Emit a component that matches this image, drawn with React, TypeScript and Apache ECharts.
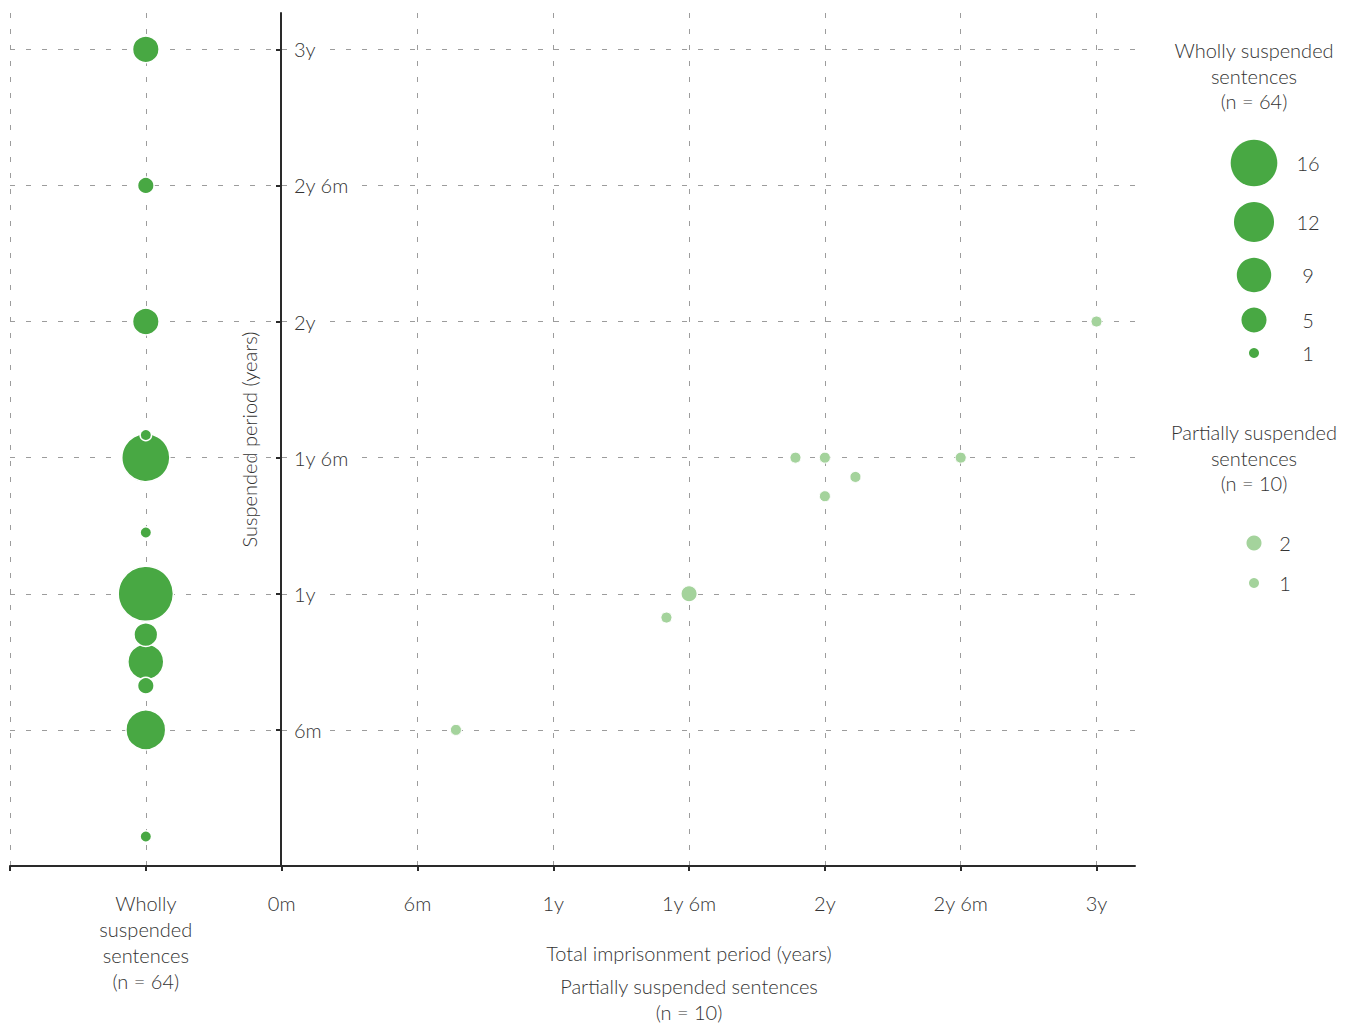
import React, { useEffect, useRef } from "react";
import * as echarts from "echarts";

// ---- Data (months) ----
const xTickMonths = [-12, -6, 0, 6, 12, 18, 24, 30, 36];
const xTickLabels = ["", "Wholly\nsuspended\nsentences\n(n = 64)", "0m", "6m", "1y", "1y 6m", "2y", "2y 6m", "3y"];
const yTickMonths = [6, 12, 18, 24, 30, 36];
const yTickLabels = ["6m", "1y", "1y 6m", "2y", "2y 6m", "3y"];

const whollyColumnX = -6;
const whollySuspendedMonths = [36, 30, 24, 18, 19, 14.7, 12, 10.2, 9, 7.95, 6, 1.3];
const whollyCounts = [5, 2, 5, 16, 1, 1, 21, 4, 9, 2, 11, 1];

const partialTotalMonths = [22.7, 24, 25.35, 24, 30, 36, 18, 17, 7.7];
const partialSuspendedMonths = [18, 18, 17.15, 16.3, 18, 24, 12, 10.95, 6];
const partialCounts = [1, 1, 1, 1, 1, 1, 2, 1, 1];

const whollyLegendValues = [16, 12, 9, 5, 1];
const partialLegendValues = [2, 1];

const whollyTitle = "Wholly suspended\nsentences\n(n = 64)";
const partialTitle = "Partially suspended\nsentences\n(n = 10)";
const xAxisTitle = "Total imprisonment period (years)";
const xAxisSubTitle = "Partially suspended sentences";
const xAxisSubN = "(n = 10)";
const yAxisTitle = "Suspended period (years)";

// ---- Styles ----
const DARK = "#48a843";
const LIGHT = "#a4d39c";
const TEXT = "#333333";
const GRIDC = "#9c9c9c";
const FONT = "Lato, 'Open Sans', sans-serif";
const FW = 300;
const FS = 20;

const radius = (n: number) => 6.1 * Math.sqrt(n) - 1.1;

export default function App() {
  const ref = useRef<HTMLDivElement>(null);
  useEffect(() => {
    if (!ref.current) return;
    const chart = echarts.init(ref.current, undefined, { renderer: "svg" });

    const whollyData = whollySuspendedMonths
      .map((y, i) => ({ value: [whollyColumnX, y, whollyCounts[i]] }))
      .sort((a, b) => b.value[2] - a.value[2]);
    const partialData = partialTotalMonths.map((x, i) => ({
      value: [x, partialSuspendedMonths[i], partialCounts[i]],
    }));

    const wLegendY = [163, 222, 275, 320, 353];
    const pLegendY = [543, 583];
    const graphics: any[] = [];
    const txt = (text: string, x: number, y: number, lh = 25.5) => ({
      type: "text",
      style: {
        text,
        x,
        y,
        align: "center",
        verticalAlign: "middle",
        fill: TEXT,
        fontSize: FS,
        fontWeight: FW,
        fontFamily: FONT,
        lineHeight: lh,
      },
      silent: true,
    });
    graphics.push(txt(whollyTitle, 1254, 75.5));
    graphics.push(txt(partialTitle, 1254, 457.5));
    whollyLegendValues.forEach((v, i) => {
      graphics.push({
        type: "circle",
        shape: { cx: 1254, cy: wLegendY[i], r: radius(v) },
        style: { fill: DARK },
        silent: true,
      });
      graphics.push(txt(String(v), 1308, wLegendY[i]));
    });
    partialLegendValues.forEach((v, i) => {
      graphics.push({
        type: "circle",
        shape: { cx: 1254, cy: pLegendY[i], r: radius(v) },
        style: { fill: LIGHT },
        silent: true,
      });
      graphics.push(txt(String(v), 1285, pLegendY[i]));
    });
    graphics.push(txt(xAxisTitle, 689, 953));
    graphics.push(txt(xAxisSubTitle, 689, 986));
    graphics.push(txt(xAxisSubN, 689, 1012));

    const dashed = { show: true, lineStyle: { color: GRIDC, type: [5, 11] as any, width: 1 } };

    chart.setOption({
      animation: false,
      grid: { left: 10, right: 218, top: 13, bottom: 157, containLabel: false, outerBoundsMode: "none" },
      xAxis: {
        type: "value",
        min: -12,
        max: 37.7,
        interval: 6,
        axisLine: { show: true, onZero: false, lineStyle: { color: "#2a2a2a", width: 2 } },
        axisTick: { show: true, length: 5, customValues: xTickMonths, lineStyle: { color: "#2a2a2a", width: 2 } },
        axisLabel: {
          customValues: xTickMonths,
          margin: 24,
          color: TEXT,
          fontSize: FS,
          fontWeight: FW,
          fontFamily: FONT,
          lineHeight: 26,
          formatter: (v: number) => {
            const i = xTickMonths.indexOf(v);
            return i >= 0 ? xTickLabels[i] : "";
          },
        },
        splitLine: dashed,
      },
      yAxis: {
        type: "value",
        min: 0,
        max: 37.6,
        interval: 6,
        position: "left",
        offset: -271,
        name: yAxisTitle,
        nameLocation: "middle",
        nameGap: 22,
        nameTextStyle: { color: TEXT, fontSize: FS, fontWeight: FW, fontFamily: FONT },
        axisLine: { show: true, onZero: false, lineStyle: { color: "#2a2a2a", width: 2 } },
        axisTick: { show: true, inside: false, length: 5, customValues: yTickMonths, lineStyle: { color: "#2a2a2a", width: 2 } },
        axisLabel: {
          customValues: yTickMonths,
          inside: true,
          margin: 8,
          color: TEXT,
          fontSize: FS,
          fontWeight: FW,
          fontFamily: FONT,
          backgroundColor: "#ffffff",
          padding: [2, 6, 2, 5],
          formatter: (v: number) => {
            const i = yTickMonths.indexOf(v);
            return i >= 0 ? yTickLabels[i] : "";
          },
        },
        splitLine: dashed,
      },
      series: [
        {
          type: "scatter",
          data: whollyData,
          symbolSize: (val: number[]) => 2 * radius(val[2]) + 1.5,
          itemStyle: { color: DARK, borderColor: "#ffffff", borderWidth: 1.5, opacity: 1 },
          z: 3,
        },
        {
          type: "scatter",
          data: partialData,
          symbolSize: (val: number[]) => 2 * radius(val[2]) + 1,
          itemStyle: { color: LIGHT, borderColor: "#ffffff", borderWidth: 1, opacity: 1 },
          z: 3,
        },
      ],
      graphic: graphics,
    });
    return () => chart.dispose();
  }, []);
  return (
    <div
      ref={ref}
      style={{ position: "fixed", left: 0, top: 0, width: 1353, height: 1023, background: "#fff" }}
    />
  );
}
